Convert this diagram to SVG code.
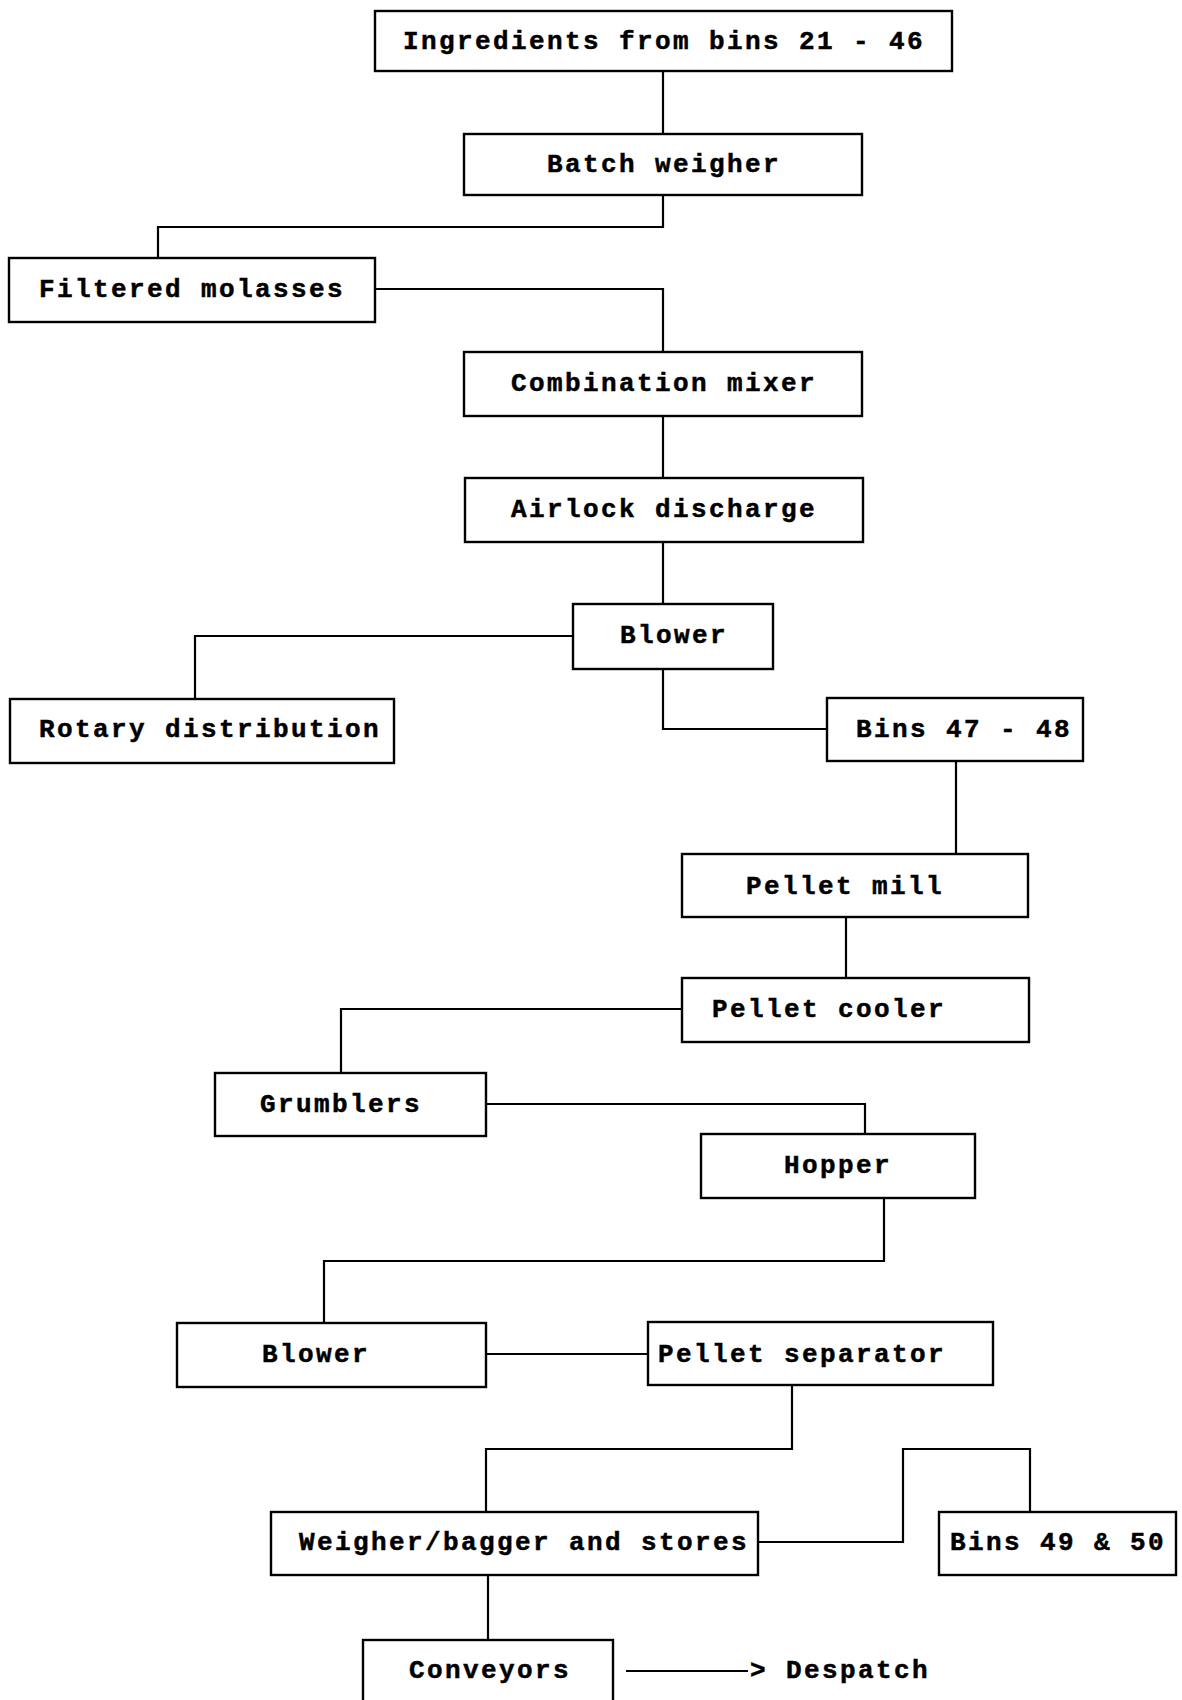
<svg xmlns="http://www.w3.org/2000/svg" width="1182" height="1700" viewBox="0 0 1182 1700">
  <style>
    .box { fill: #ffffff; stroke: #000000; stroke-width: 2.4; }
    .wire { fill: none; stroke: #000000; stroke-width: 2.2; }
    .lbl { font-family: "Liberation Mono", "Courier New", monospace; font-weight: bold; font-size: 26px; letter-spacing: 2.4px; fill: #000000; stroke: #000000; stroke-width: 0.5; }
  </style>
  <rect width="1182" height="1700" fill="#ffffff"/>

  <!-- flow lines between process steps -->
  <g id="connectors">
    <path class="wire" d="M663 71 V134"/>
    <path class="wire" d="M663 195 V227 H158 V258"/>
    <path class="wire" d="M375 289 H663 V352"/>
    <path class="wire" d="M663 416 V478"/>
    <path class="wire" d="M663 542 V604"/>
    <path class="wire" d="M573 636 H195 V699"/>
    <path class="wire" d="M663 669 V729 H827"/>
    <path class="wire" d="M956 761 V854"/>
    <path class="wire" d="M846 917 V978"/>
    <path class="wire" d="M682 1009 H341 V1073"/>
    <path class="wire" d="M486 1104 H865 V1134"/>
    <path class="wire" d="M884 1198 V1261 H324 V1323"/>
    <path class="wire" d="M486 1354 H648"/>
    <path class="wire" d="M792 1385 V1449 H486 V1512"/>
    <path class="wire" d="M758 1542 H903 V1449 H1030 V1512"/>
    <path class="wire" d="M488 1575 V1640"/>
    <path class="wire" d="M626 1671 H748"/>
  </g>

  <g id="ingredients">
    <rect class="box" x="375" y="11" width="577" height="60"/>
    <text class="lbl" x="403" y="49">Ingredients from bins 21 - 46</text>
  </g>
  <g id="batch-weigher">
    <rect class="box" x="464" y="134" width="398" height="61"/>
    <text class="lbl" x="547" y="172">Batch weigher</text>
  </g>
  <g id="filtered-molasses">
    <rect class="box" x="9" y="258" width="366" height="64"/>
    <text class="lbl" x="39" y="297">Filtered molasses</text>
  </g>
  <g id="combination-mixer">
    <rect class="box" x="464" y="352" width="398" height="64"/>
    <text class="lbl" x="511" y="391">Combination mixer</text>
  </g>
  <g id="airlock-discharge">
    <rect class="box" x="465" y="478" width="398" height="64"/>
    <text class="lbl" x="511" y="517">Airlock discharge</text>
  </g>
  <g id="blower-1">
    <rect class="box" x="573" y="604" width="200" height="65"/>
    <text class="lbl" x="620" y="643">Blower</text>
  </g>
  <g id="rotary-distribution">
    <rect class="box" x="10" y="699" width="384" height="64"/>
    <text class="lbl" x="39" y="737">Rotary distribution</text>
  </g>
  <g id="bins-47-48">
    <rect class="box" x="827" y="698" width="256" height="63"/>
    <text class="lbl" x="856" y="737">Bins 47 - 48</text>
  </g>
  <g id="pellet-mill">
    <rect class="box" x="682" y="854" width="346" height="63"/>
    <text class="lbl" x="746" y="894">Pellet mill</text>
  </g>
  <g id="pellet-cooler">
    <rect class="box" x="682" y="978" width="347" height="64"/>
    <text class="lbl" x="712" y="1017">Pellet cooler</text>
  </g>
  <g id="grumblers">
    <rect class="box" x="215" y="1073" width="271" height="63"/>
    <text class="lbl" x="260" y="1112">Grumblers</text>
  </g>
  <g id="hopper">
    <rect class="box" x="701" y="1134" width="274" height="64"/>
    <text class="lbl" x="784" y="1173">Hopper</text>
  </g>
  <g id="blower-2">
    <rect class="box" x="177" y="1323" width="309" height="64"/>
    <text class="lbl" x="262" y="1362">Blower</text>
  </g>
  <g id="pellet-separator">
    <rect class="box" x="648" y="1322" width="345" height="63"/>
    <text class="lbl" x="658" y="1362">Pellet separator</text>
  </g>
  <g id="weigher-bagger">
    <rect class="box" x="271" y="1512" width="487" height="63"/>
    <text class="lbl" x="299" y="1550">Weigher/bagger and stores</text>
  </g>
  <g id="bins-49-50">
    <rect class="box" x="939" y="1512" width="237" height="63"/>
    <text class="lbl" x="950" y="1550">Bins 49 &amp; 50</text>
  </g>
  <g id="conveyors">
    <rect class="box" x="363" y="1640" width="250" height="70"/>
    <text class="lbl" x="409" y="1678">Conveyors</text>
  </g>
  <g id="despatch">
    <text class="lbl" x="750" y="1678">&gt; Despatch</text>
  </g>
</svg>
